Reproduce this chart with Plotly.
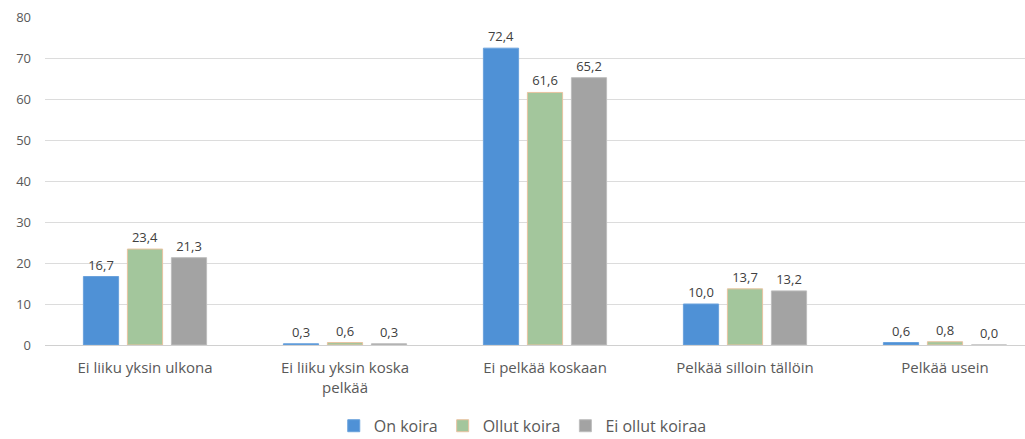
import plotly.graph_objects as go

categories = ["Ei liiku yksin ulkona", "Ei liiku yksin koska<br>pelkää",
              "Ei pelkää koskaan", "Pelkää silloin tällöin", "Pelkää usein"]
series_names = ["On koira", "Ollut koira", "Ei ollut koiraa"]
on_koira = [16.7, 0.3, 72.4, 10.0, 0.6]
ollut_koira = [23.4, 0.6, 61.6, 13.7, 0.8]
ei_ollut_koiraa = [21.3, 0.3, 65.2, 13.2, 0.0]
y_ticks = [0, 10, 20, 30, 40, 50, 60, 70, 80]

fills = ["#4f91d6", "#a3c69c", "#a3a3a3"]
edges = ["#6aa2dc", "#e8c3a0", "#bdbdbd"]

fig = go.Figure()
for name, vals, fc, ec in zip(series_names, [on_koira, ollut_koira, ei_ollut_koiraa], fills, edges):
    fig.add_trace(go.Bar(
        name=name, x=categories, y=vals,
        marker=dict(color=fc, line=dict(color=ec, width=1)),
        text=[f"{v:.1f}".replace(".", ",") for v in vals],
        textposition="outside", cliponaxis=False,
        textfont=dict(family="Open Sans, sans-serif", size=13, color="#404040"),
    ))

fig.update_layout(
    width=1025, height=439,
    margin=dict(l=45, r=0, t=17, b=94),
    paper_bgcolor="white", plot_bgcolor="white",
    barmode="group", bargap=0.34, bargroupgap=0.2,
    font=dict(family="Open Sans, sans-serif", color="#595959"),
    showlegend=True,
    legend=dict(orientation="h", x=0.51, xanchor="center", xref="container",
                y=0.03, yanchor="middle", yref="container",
                font=dict(family="Open Sans, sans-serif", size=16, color="#595959"),
                itemwidth=30, traceorder="normal"),
    xaxis=dict(range=[-0.5, 4.4], showgrid=False, showline=False, ticks="",
               ticklabelstandoff=12,
               tickfont=dict(size=15, color="#595959")),
    yaxis=dict(range=[0, 80], tickvals=y_ticks, showgrid=True, gridcolor="#dcdcdc",
               gridwidth=1, zeroline=True, zerolinecolor="#d0d0d0", zerolinewidth=1,
               showline=False, ticks="", ticklabelstandoff=13,
               tickfont=dict(size=13, color="#595959")),
)

fig.write_html("out.html")
